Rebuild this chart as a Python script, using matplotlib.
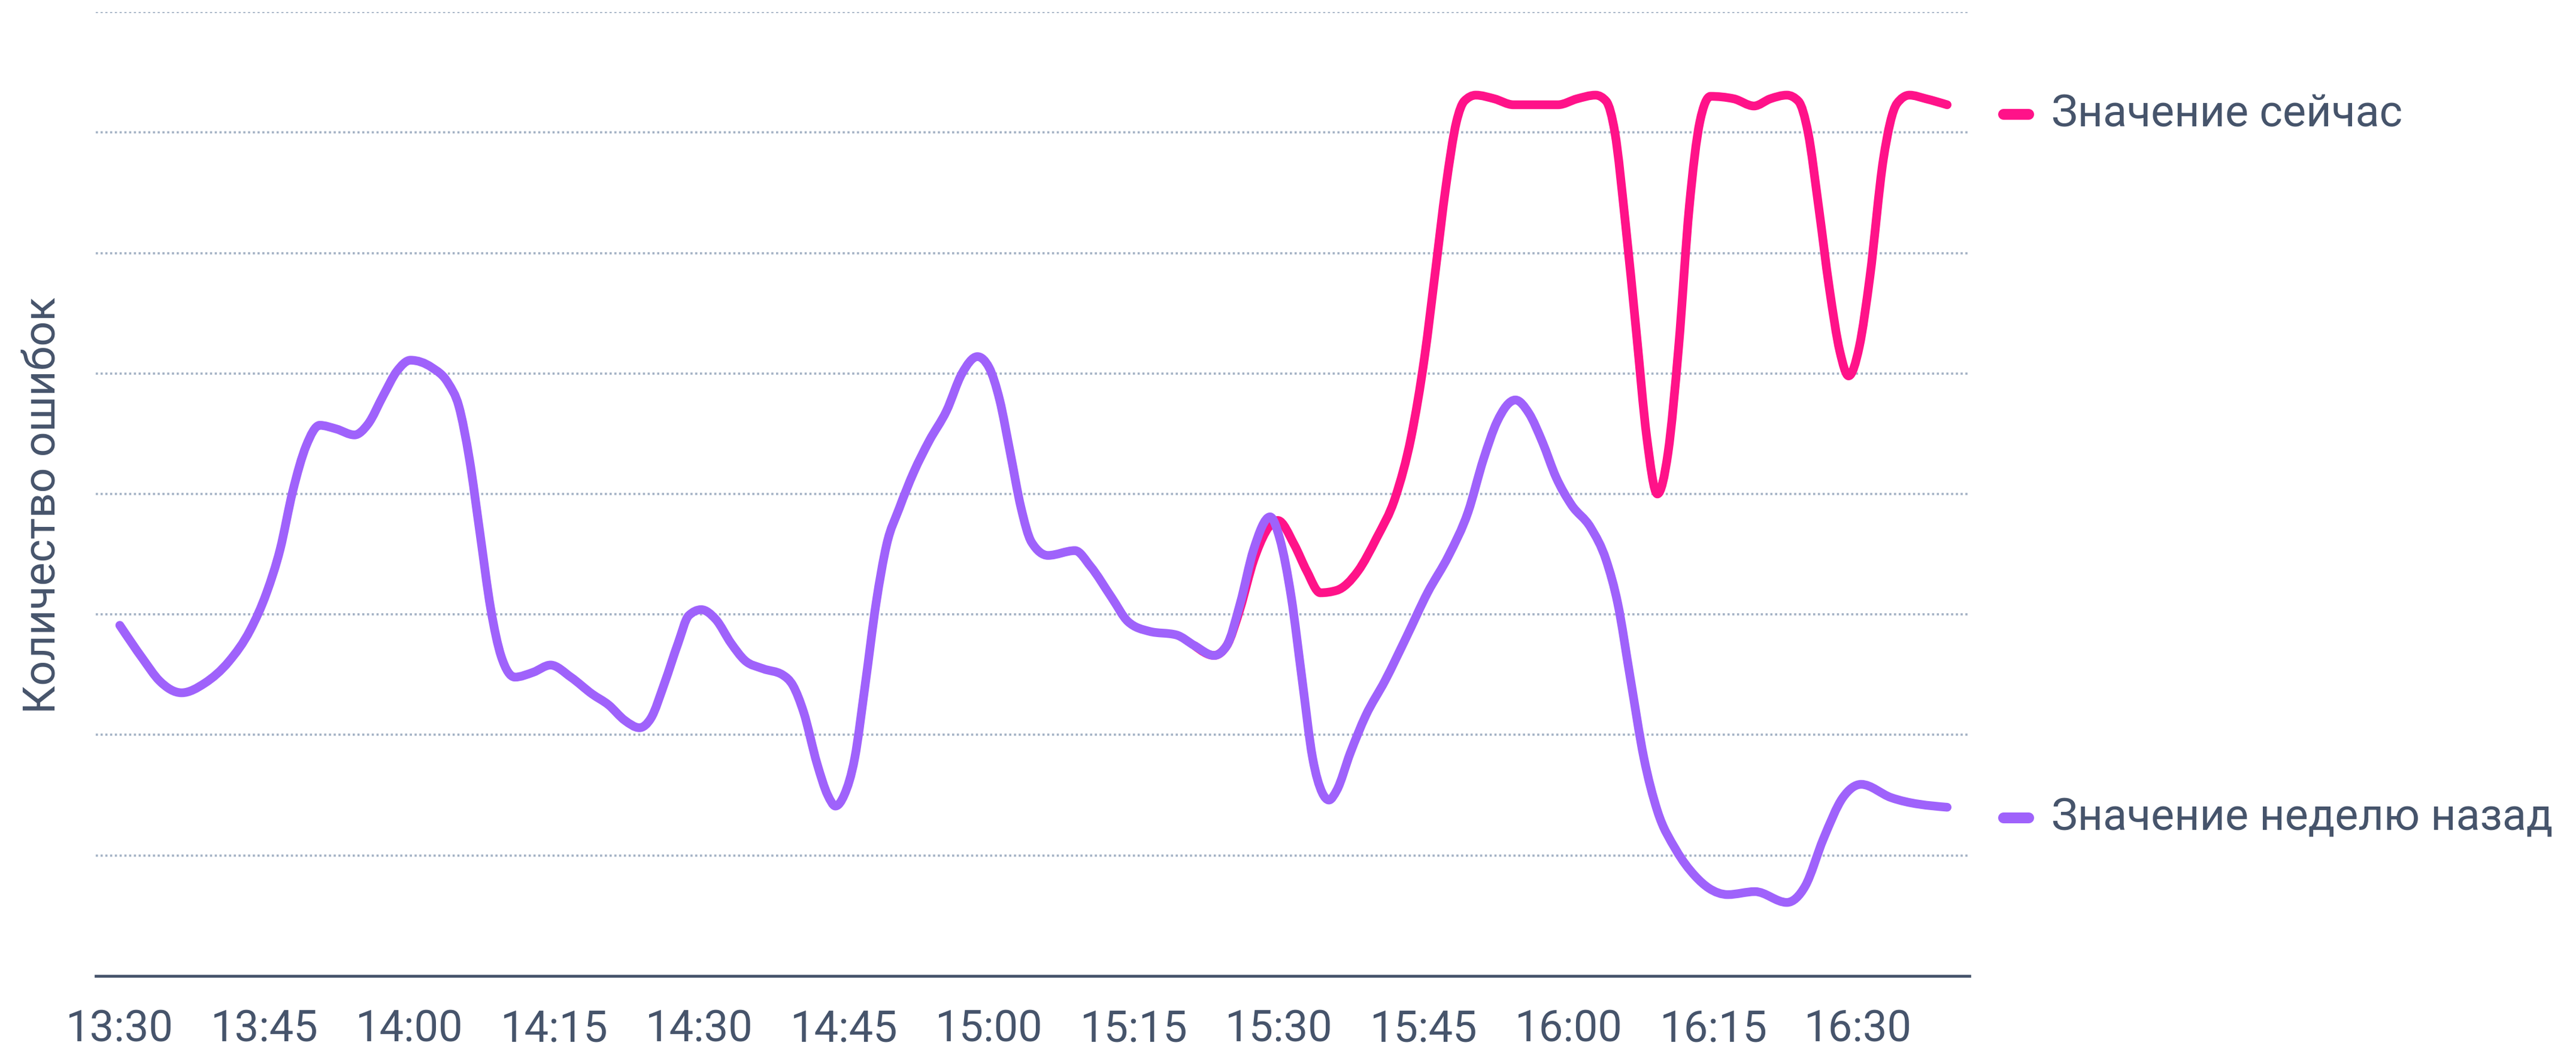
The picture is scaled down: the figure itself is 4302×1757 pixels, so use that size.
import matplotlib
matplotlib.use("Agg")
import matplotlib.pyplot as plt
import numpy as np
from matplotlib.path import Path
from matplotlib.patches import PathPatch

plt.rcParams.update({
    "font.family": ["Roboto", "DejaVu Sans"],
})

TEXT = "#46546b"
GRID = "#a3b1c4"
PINK = "#ff1289"
PURPLE = "#9f62fb"

# minutes after 13:30
tick_minutes = [0, 15, 30, 45, 60, 75, 90, 105, 120, 135, 150, 165, 180]
tick_labels = ["13:30", "13:45", "14:00", "14:15", "14:30", "14:45", "15:00",
               "15:15", "15:30", "15:45", "16:00", "16:15", "16:30"]

week_ago_t = [0, 2.4, 4.1, 6.4, 8.8, 11.3, 13.5, 15.2, 16.6, 17.9, 19.3, 20.7,
              22.4, 24.3, 25.7, 27.3, 28.7, 30.1, 32.3, 34.0, 35.1, 36.2, 37.3,
              38.4, 39.5, 40.9, 42.8, 44.6, 46.7, 48.9, 50.6, 52.3, 53.8, 55.0,
              56.4, 57.8, 58.9, 60.2, 61.7, 63.3, 64.7, 66.6, 68.6, 69.7, 70.8,
              72.2, 73.3, 74.1, 75.0, 76.1, 77.2, 78.3, 79.4, 80.7, 82.2, 83.8,
              85.6, 87.2, 88.8, 90.0, 91.1, 92.2, 93.3, 94.4, 96.1, 98.9, 100.5,
              102.7, 104.4, 106.6, 109.4, 111.3, 113.3, 114.6, 116.0, 117.4,
              119.1, 120.1, 121.3, 122.4, 123.5, 124.5, 125.2, 126.0, 127.4,
              129.0, 131.0, 133.2, 135.4, 137.6, 139.6, 141.2, 142.6, 144.5,
              145.9, 147.3, 148.7, 150.3, 152.3, 153.9, 155.1, 156.4, 157.8,
              159.2, 161.1, 163.1, 164.5, 166.5, 169.3, 172.6, 174.5, 176.4,
              178.4, 180.3, 183.4, 189.2]
week_ago_v = [2.91, 2.63, 2.45, 2.35, 2.43, 2.61, 2.87, 3.18, 3.54, 4.02, 4.40,
              4.57, 4.54, 4.49, 4.58, 4.82, 5.02, 5.11, 5.05, 4.92, 4.73, 4.29,
              3.67, 3.05, 2.65, 2.48, 2.52, 2.58, 2.48, 2.34, 2.25, 2.12, 2.06,
              2.14, 2.43, 2.76, 2.99, 3.04, 2.96, 2.76, 2.62, 2.55, 2.50, 2.41,
              2.19, 1.76, 1.50, 1.41, 1.50, 1.81, 2.43, 3.09, 3.58, 3.88, 4.18,
              4.44, 4.69, 5.00, 5.14, 5.05, 4.78, 4.34, 3.89, 3.60, 3.49, 3.53,
              3.40, 3.14, 2.94, 2.86, 2.83, 2.74, 2.66, 2.74, 3.09, 3.54, 3.81,
              3.63, 3.14, 2.47, 1.81, 1.52, 1.46, 1.54, 1.85, 2.16, 2.45, 2.81,
              3.18, 3.49, 3.85, 4.29, 4.60, 4.78, 4.67, 4.43, 4.14, 3.91, 3.72,
              3.45, 3.09, 2.47, 1.81, 1.37, 1.05, 0.83, 0.73, 0.675, 0.70, 0.61,
              0.745, 1.14, 1.48, 1.59, 1.48, 1.40]

now_t = [111.3, 113.3, 114.6, 116.0, 117.4, 119.9, 121.6, 122.9, 124.3, 126.0,
         128.2, 130.1, 132.1, 133.7, 135.1, 136.2, 137.3, 138.4, 139.2, 140.4,
         142.3, 144.3, 148.9, 150.9, 152.8, 153.9, 154.8, 155.9, 157.0, 158.1,
         159.2, 160.3, 161.4, 162.5, 163.6, 164.7, 167.1, 169.2, 170.9, 172.6,
         173.8, 174.8, 175.9, 177.0, 178.1, 179.0, 180.1, 181.2, 182.6, 184.0,
         185.3, 187.0, 189.2]
now_v = [2.74, 2.66, 2.74, 3.05, 3.45, 3.78, 3.58, 3.36, 3.18, 3.20, 3.36, 3.63,
         3.98, 4.47, 5.14, 5.84, 6.55, 7.09, 7.26, 7.31, 7.28, 7.23, 7.23, 7.28,
         7.31, 7.26, 7.0, 6.24, 5.36, 4.47, 4.00, 4.34, 5.22, 6.38, 7.09, 7.30,
         7.28, 7.22, 7.28, 7.31, 7.26, 7.0, 6.38, 5.71, 5.18, 4.98, 5.22, 5.80,
         6.78, 7.24, 7.31, 7.28, 7.23]

series_labels = ["Значение сейчас", "Значение неделю назад"]


def monotone_path(x, y):
    """Cubic Bezier path through the points, like d3.curveMonotoneX."""
    x = np.asarray(x, float)
    y = np.asarray(y, float)
    h = np.diff(x)
    s = np.diff(y) / h
    m = np.zeros_like(y)
    for i in range(1, len(x) - 1):
        if s[i - 1] * s[i] <= 0:
            m[i] = 0
        else:
            p = (s[i - 1] * h[i] + s[i] * h[i - 1]) / (h[i - 1] + h[i])
            m[i] = (np.sign(s[i - 1]) + np.sign(s[i])) * min(
                abs(s[i - 1]), abs(s[i]), 0.5 * abs(p))
    m[0] = (3 * s[0] - m[1]) / 2
    m[-1] = (3 * s[-1] - m[-2]) / 2
    verts = [(x[0], y[0])]
    codes = [Path.MOVETO]
    for i in range(len(x) - 1):
        d = h[i] / 3
        verts += [(x[i] + d, y[i] + d * m[i]),
                  (x[i + 1] - d, y[i + 1] - d * m[i + 1]),
                  (x[i + 1], y[i + 1])]
        codes += [Path.CURVE4] * 3
    return Path(verts, codes)


fig = plt.figure(figsize=(43.02, 17.57), dpi=100)
ax = fig.add_axes([0.0372, 0.0723, 0.7273, 0.9163])

ax.set_xlim(-2.48, 191.5)
ax.set_ylim(0, 8)

for level in range(1, 9):
    ax.axhline(level, color=GRID, linewidth=2.6, linestyle=(0, (1, 1.2)),
               zorder=1)

for xs, ys, color, z in [(now_t, now_v, PINK, 3),
                         (week_ago_t, week_ago_v, PURPLE, 4)]:
    patch = PathPatch(monotone_path(xs, ys), facecolor="none", edgecolor=color,
                      linewidth=10.5, capstyle="round", joinstyle="round",
                      transform=ax.transData, zorder=z, clip_on=False)
    ax.add_patch(patch)

for s in ["top", "right", "left"]:
    ax.spines[s].set_visible(False)
ax.spines["bottom"].set_color(TEXT)
ax.spines["bottom"].set_linewidth(3.4)
ax.spines["bottom"].set_zorder(5)

ax.set_yticks([])
ax.set_xticks(tick_minutes)
ax.set_xticklabels(tick_labels)
ax.tick_params(axis="x", length=0, pad=40, labelsize=52, labelcolor=TEXT)

fig.text(72 / 4302, 0.5196, "Количество ошибок", rotation=90, fontsize=53,
         color=TEXT, ha="center", va="center")

# legend next to line ends
for label, color, ypos in [(series_labels[0], PINK, 7.15),
                           (series_labels[1], PURPLE, 1.31)]:
    ax.plot([195.05, 197.65], [ypos, ypos], color=color, linewidth=13,
            solid_capstyle="round", clip_on=False)
    ax.text(200.0, ypos, label, fontsize=53, color=TEXT, va="center",
            ha="left", clip_on=False)

fig.savefig("out.png", dpi=100, facecolor="white")
